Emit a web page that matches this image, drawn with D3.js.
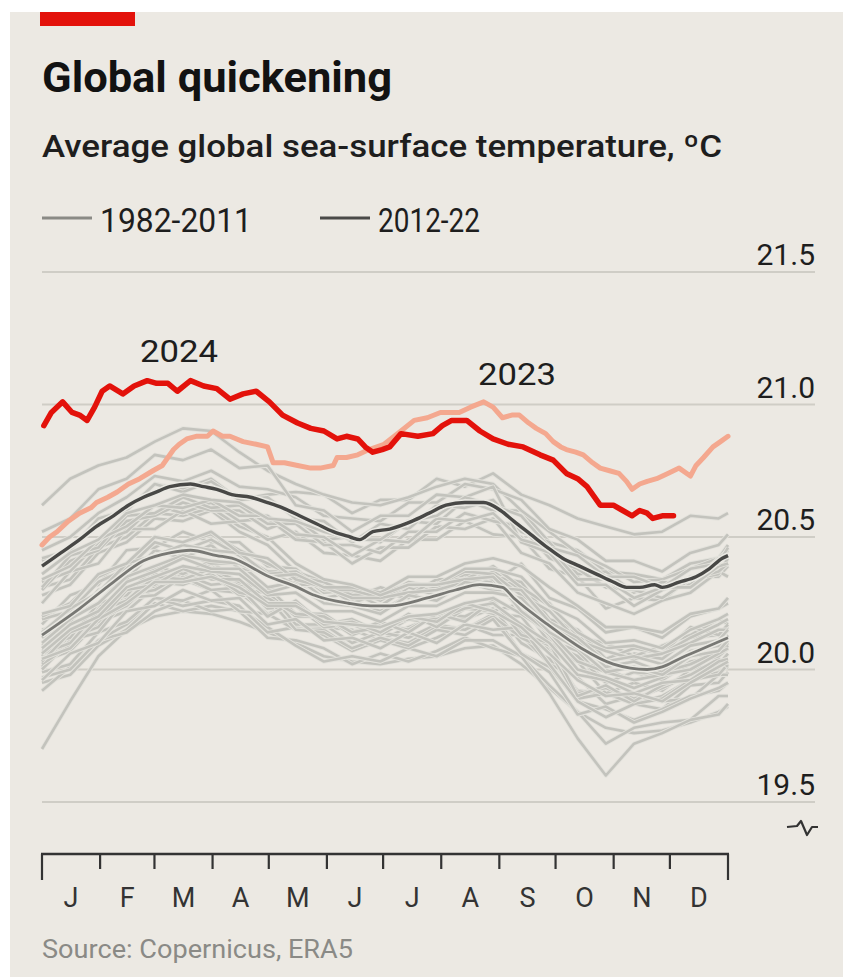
<!DOCTYPE html>
<html><head><meta charset="utf-8">
<script src="https://cdn.jsdelivr.net/npm/d3@7"></script>
<style>html,body{margin:0;padding:0;background:#ECE9E3;overflow:hidden;}svg{display:block;}</style>
</head><body>
<svg id="chart" width="843" height="979"></svg>
<script>
// ---------- DATA ----------
const monthLabels = ["J","F","M","A","M","J","J","A","S","O","N","D"];
const monthStarts = [0,31,60,91,121,152,182,213,244,274,305,335,366];
const yTicks = [19.5,20.0,20.5,21.0,21.5];

// individual years, sampled every 15 days
const grayDays = [0,15,30,45,60,75,90,105,120,135,150,165,180,195,210,225,240,255,270,285,300,315,330,345,360,365];
const sst1982 = [19.70,19.88,20.05,20.15,20.20,20.22,20.21,20.18,20.14,20.10,20.05,20.03,20.02,20.04,20.05,20.08,20.09,20.02,19.93,19.84,19.78,19.76,19.77,19.80,19.84,19.86];
const sst1983 = [20.05,20.14,20.19,20.31,20.32,20.37,20.39,20.31,20.29,20.17,20.16,20.15,20.11,20.16,20.20,20.19,20.23,20.10,20.04,19.92,19.91,19.87,19.85,19.94,19.95,19.99];
const sst1984 = [19.95,19.98,20.09,20.15,20.25,20.22,20.24,20.22,20.12,20.11,20.08,20.02,20.06,20.03,20.07,20.12,20.08,20.05,19.94,19.84,19.72,19.78,19.80,19.81,19.90,19.90];
const sst1985 = [19.92,20.01,20.11,20.14,20.22,20.26,20.22,20.23,20.16,20.09,20.03,20.05,20.03,20.08,20.05,20.11,20.11,20.05,19.91,19.74,19.60,19.72,19.76,19.81,19.83,19.87];
const sst1986 = [19.97,20.00,20.11,20.17,20.27,20.24,20.26,20.24,20.14,20.16,20.13,20.07,20.11,20.08,20.12,20.17,20.13,20.13,20.02,19.97,19.87,19.90,19.88,19.89,19.98,19.98];
const sst1987 = [20.03,20.07,20.18,20.22,20.31,20.34,20.30,20.29,20.21,20.25,20.17,20.18,20.14,20.20,20.19,20.25,20.22,20.24,20.11,20.07,19.95,19.99,19.96,20.03,20.05,20.09];
const sst1988 = [20.09,20.12,20.24,20.28,20.38,20.36,20.40,20.32,20.30,20.17,20.17,20.10,20.14,20.12,20.17,20.15,20.21,20.06,20.01,19.88,19.85,19.81,19.85,19.90,19.92,19.95];
const sst1989 = [19.99,20.02,20.14,20.18,20.27,20.26,20.30,20.22,20.21,20.15,20.15,20.08,20.12,20.10,20.16,20.15,20.20,20.12,20.07,19.89,19.91,19.87,19.90,19.96,19.99,20.01];
const sst1990 = [20.01,20.12,20.16,20.28,20.30,20.36,20.32,20.33,20.23,20.24,20.16,20.17,20.13,20.19,20.17,20.24,20.21,20.20,20.07,20.03,19.91,19.95,19.92,20.00,20.02,20.06];
const sst1991 = [20.07,20.10,20.22,20.26,20.36,20.34,20.38,20.30,20.29,20.20,20.20,20.13,20.17,20.15,20.21,20.20,20.25,20.14,20.09,19.91,19.93,19.89,19.93,19.98,20.01,20.03];
const sst1992 = [20.04,20.08,20.20,20.24,20.33,20.32,20.36,20.28,20.27,20.15,20.14,20.08,20.12,20.09,20.15,20.13,20.19,20.06,19.99,19.83,19.86,19.80,19.84,19.89,19.93,19.95];
const sst1993 = [19.96,20.06,20.10,20.22,20.24,20.30,20.26,20.27,20.17,20.19,20.11,20.12,20.08,20.14,20.10,20.17,20.15,20.16,20.02,19.88,19.82,19.87,19.89,19.96,19.98,20.02];
const sst1994 = [20.00,20.11,20.14,20.27,20.28,20.35,20.30,20.31,20.20,20.26,20.17,20.19,20.14,20.21,20.16,20.23,20.22,20.25,20.10,20.05,19.95,19.99,19.98,20.05,20.06,20.10];
const sst1995 = [20.09,20.12,20.25,20.28,20.39,20.36,20.41,20.32,20.31,20.21,20.21,20.14,20.18,20.14,20.21,20.18,20.26,20.13,20.10,19.90,19.94,19.88,19.94,19.98,20.04,20.01];
const sst1996 = [20.02,20.09,20.19,20.24,20.34,20.33,20.36,20.29,20.27,20.21,20.20,20.14,20.16,20.19,20.19,20.23,20.25,20.17,20.10,19.98,19.96,19.91,19.95,19.96,20.03,20.04];
const sst1997 = [20.06,20.10,20.22,20.26,20.35,20.34,20.38,20.33,20.30,20.35,20.27,20.29,20.24,20.31,20.28,20.35,20.33,20.40,20.27,20.23,20.14,20.16,20.12,20.20,20.23,20.25];
const sst1998 = [20.28,20.32,20.44,20.48,20.57,20.56,20.60,20.52,20.47,20.37,20.29,20.30,20.26,20.32,20.30,20.36,20.34,20.22,20.13,20.00,19.97,19.93,19.97,20.02,20.05,20.08];
const sst1999 = [20.03,20.14,20.18,20.30,20.32,20.38,20.34,20.34,20.25,20.25,20.17,20.18,20.14,20.20,20.18,20.25,20.22,20.16,20.06,19.96,19.90,19.91,19.88,19.95,20.01,20.03];
const sst2000 = [20.04,20.08,20.19,20.25,20.33,20.33,20.35,20.31,20.24,20.24,20.18,20.17,20.16,20.20,20.21,20.25,20.27,20.21,20.14,20.03,20.00,19.96,19.99,20.02,20.07,20.09];
const sst2001 = [20.12,20.20,20.25,20.36,20.38,20.44,20.40,20.40,20.31,20.33,20.25,20.26,20.22,20.28,20.26,20.33,20.30,20.30,20.17,20.13,20.02,20.06,20.04,20.12,20.13,20.16];
const sst2002 = [20.15,20.18,20.30,20.34,20.45,20.42,20.47,20.38,20.37,20.32,20.32,20.25,20.29,20.27,20.33,20.31,20.37,20.30,20.25,20.12,20.10,20.05,20.09,20.13,20.19,20.17];
const sst2003 = [20.17,20.28,20.32,20.45,20.46,20.52,20.48,20.48,20.39,20.38,20.30,20.31,20.27,20.33,20.31,20.38,20.35,20.33,20.19,20.15,20.04,20.08,20.06,20.16,20.13,20.17];
const sst2004 = [20.19,20.22,20.33,20.38,20.48,20.45,20.49,20.43,20.37,20.37,20.33,20.27,20.31,20.28,20.34,20.34,20.39,20.31,20.24,20.14,20.08,20.09,20.06,20.12,20.17,20.19];
const sst2005 = [20.20,20.25,20.35,20.40,20.50,20.48,20.51,20.45,20.40,20.35,20.33,20.28,20.29,20.32,20.32,20.37,20.36,20.28,20.22,20.11,20.07,20.04,20.06,20.10,20.15,20.15];
const sst2006 = [20.14,20.23,20.29,20.40,20.43,20.47,20.45,20.44,20.36,20.37,20.30,20.30,20.27,20.32,20.32,20.38,20.38,20.35,20.24,20.19,20.10,20.11,20.08,20.15,20.19,20.21];
const sst2007 = [20.21,20.24,20.36,20.40,20.50,20.48,20.52,20.44,20.42,20.34,20.31,20.27,20.27,20.29,20.30,20.33,20.35,20.22,20.14,20.03,19.99,19.96,19.98,20.00,20.06,20.08];
const sst2008 = [20.06,20.15,20.20,20.31,20.35,20.39,20.37,20.36,20.28,20.29,20.22,20.22,20.18,20.24,20.24,20.29,20.29,20.27,20.16,20.11,20.01,20.03,19.99,20.07,20.09,20.13];
const sst2009 = [20.10,20.19,20.25,20.35,20.39,20.43,20.41,20.40,20.35,20.36,20.31,20.31,20.29,20.35,20.35,20.40,20.42,20.39,20.31,20.24,20.16,20.16,20.14,20.21,20.23,20.27];
const sst2010 = [20.31,20.34,20.46,20.50,20.59,20.58,20.61,20.54,20.50,20.40,20.34,20.32,20.28,20.32,20.32,20.34,20.35,20.25,20.14,20.08,19.99,20.01,19.98,20.05,20.07,20.11];
const sst2011 = [20.08,20.17,20.22,20.33,20.37,20.42,20.38,20.38,20.29,20.32,20.25,20.24,20.21,20.28,20.26,20.33,20.31,20.30,20.18,20.12,20.03,20.05,20.02,20.09,20.11,20.15];
const sst2012 = [20.25,20.37,20.40,20.53,20.53,20.60,20.55,20.56,20.49,20.52,20.44,20.43,20.41,20.49,20.49,20.56,20.51,20.50,20.38,20.35,20.23,20.27,20.26,20.35,20.35,20.39];
const sst2013 = [20.33,20.37,20.48,20.52,20.62,20.59,20.63,20.56,20.57,20.49,20.48,20.40,20.46,20.46,20.54,20.53,20.57,20.44,20.40,20.29,20.25,20.21,20.26,20.29,20.37,20.35];
const sst2014 = [20.30,20.41,20.45,20.56,20.58,20.63,20.60,20.60,20.53,20.57,20.49,20.50,20.48,20.56,20.55,20.64,20.60,20.60,20.48,20.45,20.37,20.36,20.34,20.40,20.42,20.47];
const sst2015 = [20.41,20.45,20.57,20.60,20.70,20.68,20.72,20.64,20.66,20.67,20.66,20.59,20.64,20.64,20.72,20.69,20.74,20.66,20.62,20.57,20.54,20.51,20.52,20.58,20.57,20.59];
const sst2016 = [20.62,20.72,20.77,20.80,20.86,20.91,20.90,20.82,20.75,20.70,20.66,20.63,20.62,20.65,20.69,20.72,20.70,20.60,20.52,20.44,20.39,20.33,20.34,20.38,20.42,20.45];
const sst2017 = [20.42,20.45,20.57,20.60,20.70,20.67,20.71,20.64,20.65,20.57,20.56,20.48,20.55,20.53,20.62,20.61,20.64,20.52,20.48,20.36,20.37,20.29,20.33,20.32,20.42,20.41];
const sst2018 = [20.31,20.43,20.46,20.58,20.59,20.65,20.61,20.62,20.55,20.55,20.47,20.47,20.44,20.52,20.52,20.59,20.56,20.54,20.42,20.38,20.31,20.30,20.27,20.34,20.36,20.42];
const sst2019 = [20.45,20.50,20.59,20.65,20.73,20.71,20.75,20.69,20.68,20.65,20.58,20.57,20.56,20.63,20.63,20.70,20.68,20.64,20.53,20.49,20.41,20.41,20.37,20.44,20.47,20.51];
const sst2020 = [20.52,20.57,20.68,20.72,20.81,20.79,20.83,20.76,20.77,20.62,20.60,20.52,20.58,20.58,20.66,20.65,20.69,20.48,20.44,20.32,20.32,20.24,20.30,20.34,20.37,20.40];
const sst2021 = [20.34,20.39,20.49,20.54,20.62,20.61,20.64,20.58,20.58,20.51,20.50,20.43,20.49,20.48,20.57,20.56,20.59,20.49,20.46,20.34,20.34,20.27,20.31,20.31,20.39,20.40];
const sst2022 = [20.36,20.44,20.49,20.59,20.62,20.66,20.64,20.63,20.57,20.56,20.52,20.49,20.49,20.56,20.58,20.65,20.62,20.58,20.46,20.43,20.35,20.35,20.31,20.38,20.40,20.46];
const grayYears = [sst1982,sst1983,sst1984,sst1985,sst1986,sst1987,sst1988,sst1989,sst1990,sst1991,
  sst1992,sst1993,sst1994,sst1995,sst1996,sst1997,sst1998,sst1999,sst2000,sst2001,sst2002,sst2003,
  sst2004,sst2005,sst2006,sst2007,sst2008,sst2009,sst2010,sst2011,sst2012,sst2013,sst2014,sst2015,
  sst2016,sst2017,sst2018,sst2019,sst2020,sst2021,sst2022];

// 1982-2011 average
const mean8211Days = [0,20,38,54,68,79,93,101,121,136,145,163,175,185,205,220,233,245,251,269,287,304,322,330,339,352,365];
const mean8211Vals = [20.13,20.23,20.33,20.41,20.44,20.45,20.43,20.42,20.35,20.31,20.28,20.25,20.24,20.24,20.27,20.30,20.32,20.31,20.27,20.17,20.08,20.02,20.00,20.01,20.04,20.08,20.12];
// 2012-22 average
const mean1222Days = [0,10,20,29,38,46,54,61,68,79,86,93,101,111,120,128,137,146,155,164,169,176,185,197,206,215,225,235,244,251,260,269,277,286,295,304,311,318,326,330,339,348,355,362,365];
const mean1222Vals = [20.39,20.44,20.49,20.54,20.58,20.62,20.65,20.67,20.69,20.70,20.69,20.68,20.66,20.65,20.63,20.61,20.58,20.55,20.52,20.50,20.49,20.52,20.53,20.56,20.59,20.62,20.63,20.63,20.60,20.56,20.51,20.46,20.42,20.39,20.36,20.33,20.31,20.31,20.32,20.31,20.33,20.35,20.38,20.42,20.43];
// 2023
const y2023Days = [0,4,8,14,20,26,29,35,40,46,52,59,64,67,70,73,77,82,88,91,96,100,107,114,120,123,129,136,143,148,155,157,162,168,174,182,191,198,205,212,217,222,228,235,240,245,250,254,259,263,268,272,276,279,284,288,293,297,302,307,311,314,318,322,327,333,336,339,345,348,352,357,361,365];
const y2023Vals = [20.47,20.50,20.52,20.56,20.59,20.61,20.63,20.65,20.67,20.70,20.72,20.75,20.77,20.80,20.83,20.85,20.87,20.88,20.88,20.90,20.88,20.88,20.86,20.85,20.84,20.78,20.78,20.77,20.76,20.76,20.77,20.80,20.80,20.81,20.83,20.85,20.90,20.94,20.95,20.97,20.97,20.97,20.99,21.01,20.99,20.95,20.96,20.96,20.93,20.91,20.89,20.86,20.84,20.83,20.82,20.81,20.78,20.76,20.75,20.74,20.71,20.68,20.70,20.71,20.72,20.74,20.75,20.76,20.73,20.77,20.80,20.84,20.86,20.88];
// 2024
const y2024Days = [1,5,11,16,20,24,28,32,36,43,49,56,61,67,72,79,86,93,100,107,114,121,128,136,143,150,157,162,168,172,176,181,185,191,200,208,213,218,226,233,240,248,256,265,272,279,285,290,297,304,309,314,318,322,325,330,336];
const y2024Vals = [20.92,20.97,21.01,20.97,20.96,20.94,20.99,21.05,21.07,21.04,21.07,21.09,21.08,21.08,21.05,21.09,21.07,21.06,21.02,21.04,21.05,21.01,20.96,20.93,20.91,20.90,20.87,20.88,20.87,20.84,20.82,20.83,20.84,20.89,20.88,20.89,20.92,20.94,20.94,20.90,20.87,20.85,20.84,20.81,20.79,20.74,20.72,20.69,20.62,20.62,20.60,20.58,20.60,20.59,20.57,20.58,20.58];

// ---------- DRAW ----------
const svg = d3.select("#chart");
const FONT = "Roboto, 'Liberation Sans', Arial, sans-serif";
const x = d3.scaleLinear().domain([0,365]).range([42,728]);
const y = d3.scaleLinear().domain([19.5,21.5]).range([802,272]);
const zip = (ds, vs) => ds.slice(0, Math.min(ds.length, vs.length)).map((d,i)=>[d, vs[i]]);
const line = d3.line().x(d=>x(d[0])).y(d=>y(d[1]));
const smooth = d3.line().x(d=>x(d[0])).y(d=>y(d[1])).curve(d3.curveMonotoneX);

// background
svg.append("rect").attr("x",0).attr("y",0).attr("width",843).attr("height",979).attr("fill","#ffffff");
svg.append("rect").attr("x",10).attr("y",12).attr("width",833).attr("height",965).attr("fill","#ECE9E3");
svg.append("rect").attr("x",40).attr("y",12).attr("width",95).attr("height",14).attr("fill","#E3120B");

// titles
svg.append("text").attr("x",42).attr("y",92).text("Global quickening")
  .attr("font-family",FONT).attr("font-weight",700).attr("font-size",42).attr("fill","#121212")
  .attr("textLength",350).attr("lengthAdjust","spacingAndGlyphs");
svg.append("text").attr("x",42).attr("y",157).text("Average global sea-surface temperature, ºC")
  .attr("font-family",FONT).attr("font-weight",500).attr("font-size",31).attr("fill","#1e1e1e")
  .attr("textLength",680).attr("lengthAdjust","spacingAndGlyphs");

// legend
const legend = [
  {label:"1982-2011", x0:42, x1:92, tx:100, w:152, color:"#8a8a85"},
  {label:"2012-22", x0:320, x1:370, tx:378, w:102, color:"#4a4a48"}
];
legend.forEach(l=>{
  svg.append("line").attr("x1",l.x0).attr("x2",l.x1).attr("y1",218).attr("y2",218)
    .attr("stroke",l.color).attr("stroke-width",3);
  svg.append("text").attr("x",l.tx).attr("y",232).text(l.label)
    .attr("font-family",FONT).attr("font-size",33).attr("fill","#1e1e1e")
    .attr("textLength",l.w).attr("lengthAdjust","spacingAndGlyphs");
});

// gridlines + y labels
yTicks.forEach(t=>{
  svg.append("line").attr("x1",42).attr("x2",815).attr("y1",y(t)).attr("y2",y(t))
    .attr("stroke","#CFCDC6").attr("stroke-width",2.2);
  svg.append("text").attr("x",815).attr("y",y(t)-7).attr("text-anchor","end").text(t.toFixed(1))
    .attr("font-family",FONT).attr("font-size",30).attr("fill","#1e1e1e");
});

// gray year lines
const gy = svg.append("g");
grayYears.forEach(vals=>{
  const pts = zip(grayDays, vals);
  gy.append("path").attr("d",line(pts)).attr("fill","none").attr("stroke","#E3E2DC")
    .attr("stroke-width",4.4).attr("stroke-linejoin","round");
  gy.append("path").attr("d",line(pts)).attr("fill","none").attr("stroke","#C3C3BD")
    .attr("stroke-width",2.6).attr("stroke-linejoin","round");
});

// averages
function halo(pts, col, w){
  svg.append("path").attr("d",smooth(pts)).attr("fill","none").attr("stroke","#EAE9E3").attr("stroke-width",w+3);
  svg.append("path").attr("d",smooth(pts)).attr("fill","none").attr("stroke",col).attr("stroke-width",w).attr("stroke-linejoin","round");
}
halo(zip(mean8211Days, mean8211Vals), "#787874", 2.8);
halo(zip(mean1222Days, mean1222Vals), "#484846", 3.4);

// 2023 and 2024
svg.append("path").attr("d",line(zip(y2023Days,y2023Vals))).attr("fill","none")
  .attr("stroke","#F4A88F").attr("stroke-width",5).attr("stroke-linejoin","round").attr("stroke-linecap","round");
svg.append("path").attr("d",line(zip(y2024Days,y2024Vals))).attr("fill","none")
  .attr("stroke","#E3120B").attr("stroke-width",5.5).attr("stroke-linejoin","round").attr("stroke-linecap","round");

// annotations
svg.append("text").attr("x",140).attr("y",362).text("2024").attr("font-family",FONT)
  .attr("font-size",31).attr("fill","#1e1e1e").attr("textLength",78).attr("lengthAdjust","spacingAndGlyphs");
svg.append("text").attr("x",478).attr("y",385).text("2023").attr("font-family",FONT)
  .attr("font-size",31).attr("fill","#1e1e1e").attr("textLength",78).attr("lengthAdjust","spacingAndGlyphs");

// axis break symbol
svg.append("path").attr("d","M787,827 L797,826 L801,821 L807,835 L812,827 L818,827")
  .attr("fill","none").attr("stroke","#333").attr("stroke-width",2.2).attr("stroke-linejoin","round");

// x axis
const ax = svg.append("g");
ax.append("line").attr("x1",x(0)-1).attr("x2",x(365)+1).attr("y1",854).attr("y2",854)
  .attr("stroke","#333").attr("stroke-width",2.5);
monthStarts.forEach((d,i)=>{
  const end = (i===0 || i===monthStarts.length-1);
  const xx = x(d*365/366);
  ax.append("line").attr("x1",xx).attr("x2",xx).attr("y1",854).attr("y2", end?880:869)
    .attr("stroke","#333").attr("stroke-width",2.2);
});
monthLabels.forEach((m,i)=>{
  const mid = (monthStarts[i]+monthStarts[i+1])/2*365/366;
  ax.append("text").attr("x",x(mid)).attr("y",907).attr("text-anchor","middle").text(m)
    .attr("font-family",FONT).attr("font-size",27).attr("fill","#333");
});

// source
svg.append("text").attr("x",42).attr("y",958).text("Source: Copernicus, ERA5")
  .attr("font-family",FONT).attr("font-size",25).attr("fill","#8a8a86")
  .attr("textLength",311).attr("lengthAdjust","spacingAndGlyphs");
</script>
</body></html>
